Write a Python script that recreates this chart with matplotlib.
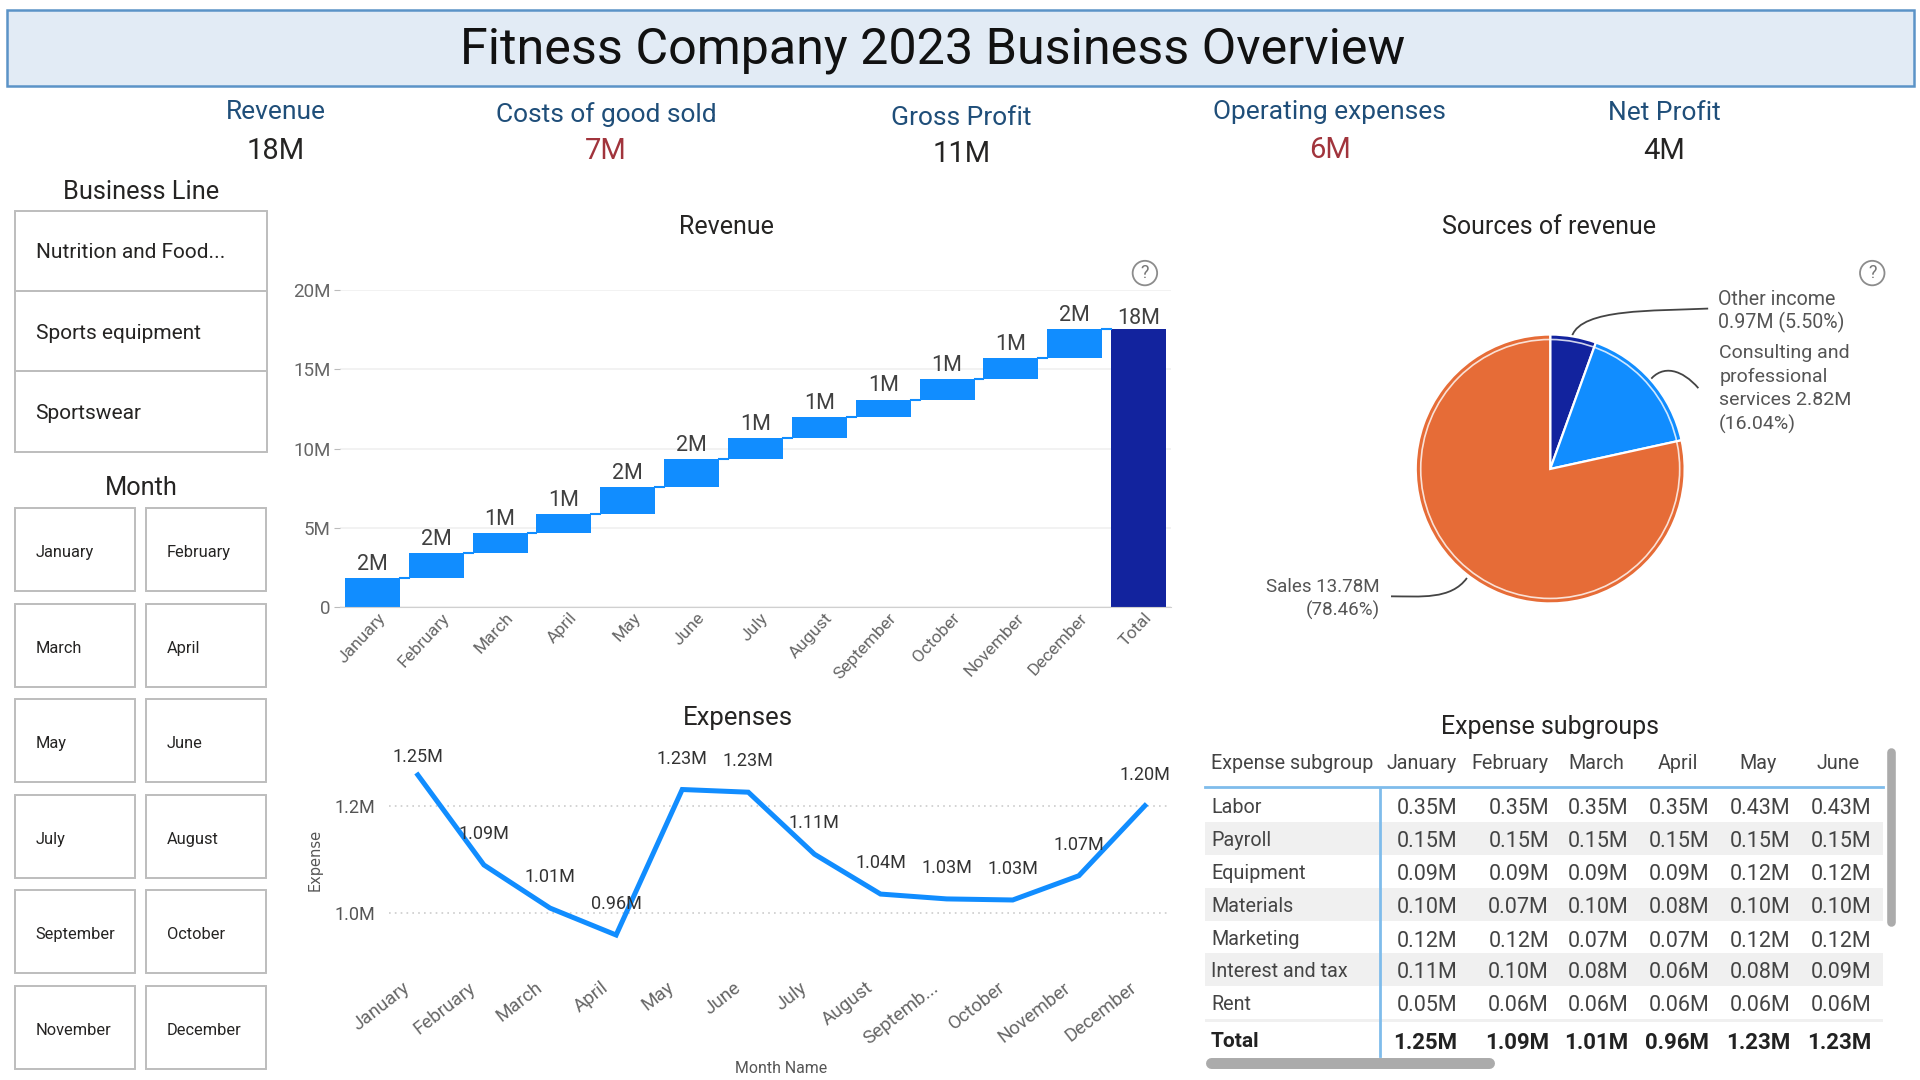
import matplotlib
matplotlib.use('Agg')
import matplotlib.pyplot as plt
from matplotlib.patches import Rectangle, PathPatch, Circle
from matplotlib.path import Path
from matplotlib.transforms import ScaledTranslation

plt.rcParams['font.family'] = ['Roboto', 'DejaVu Sans']

# data
months = ['January', 'February', 'March', 'April', 'May', 'June', 'July', 'August',
          'September', 'October', 'November', 'December']
expense_months = months[:8] + ['Septemb...'] + months[9:]
revenue_steps = [1.85, 1.55, 1.30, 1.17, 1.70, 1.78, 1.30, 1.35, 1.10, 1.30, 1.30, 1.86]
revenue_total = 17.56
revenue_ticks = [0, 5, 10, 15, 20]
revenue_tick_labels = ['0', '5M', '10M', '15M', '20M']

expense_values = [1.257, 1.09, 1.01, 0.96, 1.23, 1.225, 1.11, 1.036, 1.027, 1.025, 1.07, 1.20]
expense_labels = ['1.25M', '1.09M', '1.01M', '0.96M', '1.23M', '1.23M', '1.11M', '1.04M',
                  '1.03M', '1.03M', '1.07M', '1.20M']

source_values = [0.97, 2.82, 13.78]
source_colors = ['#12239E', '#118DFF', '#E66C37']

business_lines = ['Nutrition and Food...', 'Sports equipment', 'Sportswear']

kpi_names = ['Revenue', 'Costs of good sold', 'Gross Profit', 'Operating expenses', 'Net Profit']
kpi_values = ['18M', '7M', '11M', '6M', '4M']

table_cols = ['Expense subgroup', 'January', 'February', 'March', 'April', 'May', 'June']
table_names = ['Labor', 'Payroll', 'Equipment', 'Materials', 'Marketing', 'Interest and tax', 'Rent']
labor = ['0.35M', '0.35M', '0.35M', '0.35M', '0.43M', '0.43M']
payroll = ['0.15M', '0.15M', '0.15M', '0.15M', '0.15M', '0.15M']
equipment = ['0.09M', '0.09M', '0.09M', '0.09M', '0.12M', '0.12M']
materials = ['0.10M', '0.07M', '0.10M', '0.08M', '0.10M', '0.10M']
marketing = ['0.12M', '0.12M', '0.07M', '0.07M', '0.12M', '0.12M']
interest = ['0.11M', '0.10M', '0.08M', '0.06M', '0.08M', '0.09M']
rent = ['0.05M', '0.06M', '0.06M', '0.06M', '0.06M', '0.06M']
table_total = ['1.25M', '1.09M', '1.01M', '0.96M', '1.23M', '1.23M']
table_rows = [labor, payroll, equipment, materials, marketing, interest, rent]

W, H = 1568.0, 882.0
fig = plt.figure(figsize=(19.2, 10.8), dpi=100, facecolor='white')

def axes_px(left, top, right, bottom):
    return fig.add_axes([left / W, 1 - bottom / H, (right - left) / W, (bottom - top) / H])

# overlay for the panels, in picture coordinates
bg = fig.add_axes([0, 0, 1, 1])
bg.set_xlim(0, W)
bg.set_ylim(H, 0)
bg.axis('off')

def box(x0, y0, x1, y1, fc='none', ec='#BDBDBD', lw=1.4):
    bg.add_patch(Rectangle((x0, y0), x1 - x0, y1 - y0, fc=fc, ec=ec, lw=lw))

def label(x, y, s, size=14, color='#252423', ha='center', **kw):
    bg.text(x, y + 1.5, s, fontsize=size, color=color, ha=ha, va='center', **kw)

# banner
box(6, 8, 1563, 70, fc='#E2EBF5', ec='#5B93C7', lw=1.8)
label(762, 39, 'Fitness Company 2023 Business Overview', size=36.2, color='#111111')

# kpi cards
kpi_x = [225, 495, 785, 1086, 1359]
kpi_name_y = [90, 92, 95, 90, 91]
kpi_value_y = [122, 122, 124, 121, 122]
kpi_colors = ['#252423', '#A1343C', '#252423', '#A1343C', '#252423']
for i in range(5):
    label(kpi_x[i], kpi_name_y[i], kpi_names[i], size=19, color='#1F4E79')
    label(kpi_x[i], kpi_value_y[i], kpi_values[i], size=21, color=kpi_colors[i])

# slicers
label(115, 155, 'Business Line', size=18.3)
label(115, 397, 'Month', size=18.3)
biz_y = [172, 238, 303, 369]
for i, name in enumerate(business_lines):
    box(12, biz_y[i], 218, biz_y[i + 1])
    label(29, (biz_y[i] + biz_y[i + 1]) / 2, name, size=15, ha='left')

month_y = [415, 493, 571, 649, 727, 805]
for i, name in enumerate(months):
    r = i // 2
    if i % 2 == 0:
        box(12, month_y[r], 110, month_y[r] + 68)
        label(29, month_y[r] + 35, name, size=11.8, ha='left')
    else:
        box(119, month_y[r], 217, month_y[r] + 68)
        label(136, month_y[r] + 35, name, size=11.8, ha='left')

# section titles
label(593, 184, 'Revenue', size=18)
label(1265, 184, 'Sources of revenue', size=18)
label(603, 585, 'Expenses', size=18.5)
label(1266, 592, 'Expense subgroups', size=18)

# help icons
for cx in [935, 1529]:
    bg.add_patch(Circle((cx, 223), 10, fc='white', ec='#8C8C8C', lw=1.3))
    bg.text(cx, 223, '?', fontsize=13, color='#777777', ha='center', va='center')

# revenue waterfall
ax = axes_px(278, 237, 956, 496)
starts = [sum(revenue_steps[:i]) for i in range(12)]
x = list(range(12))
ax.bar(x, revenue_steps, bottom=starts, width=0.86, color='#118DFF', zorder=2)
ax.bar([12], [revenue_total], width=0.86, color='#12239E', zorder=2)
for i in range(12):
    end = starts[i] + revenue_steps[i]
    ax.plot([i + 0.43, i + 0.57], [end, end], color='#118DFF', lw=1.5, zorder=2)
    ax.text(i, end + 0.2, '%dM' % round(revenue_steps[i]), ha='center', va='bottom',
            fontsize=15.5, color='#404040')
ax.text(12, revenue_total + 0.0, '18M', ha='center', va='bottom', fontsize=15.5, color='#404040')
ax.set_xlim(-0.5, 12.5)
ax.set_ylim(0, 20)
ax.set_yticks(revenue_ticks)
ax.set_yticklabels(revenue_tick_labels, fontsize=13.5, color='#666666')
ax.set_xticks(range(13))
ax.set_xticklabels(months + ['Total'], fontsize=12.5, color='#666666', rotation=47,
                   ha='right', rotation_mode='anchor')
ax.tick_params(axis='x', length=0, pad=2)
ax.tick_params(axis='y', length=4, width=0.8, color='#BBBBBB', pad=3)
# tick_params resets the label transforms, so shift them afterwards
for t in ax.get_xticklabels():
    t.set_transform(t.get_transform() + ScaledTranslation(0.05, 0, fig.dpi_scale_trans))
ax.grid(axis='y', color='black', alpha=0.06, lw=1.2, zorder=3)
for s in ['top', 'right', 'left']:
    ax.spines[s].set_visible(False)
ax.spines['bottom'].set_color('#D0D0D0')
ax.patch.set_alpha(0)

# pie
pie_ax = axes_px(1266 - 112, 383 - 112, 1266 + 112, 383 + 112)
pie_ax.pie(source_values, colors=source_colors, startangle=90, counterclock=False, radius=1.0,
           wedgeprops={'edgecolor': 'white', 'linewidth': 1.6})
pie_ax.add_patch(Circle((0, 0), 0.963, fc='none', ec='white', lw=1.2, alpha=0.8))
pie_ax.set_xlim(-1.02, 1.02)
pie_ax.set_ylim(-1.02, 1.02)

def leader(pts):
    codes = [Path.MOVETO, Path.CURVE4, Path.CURVE4, Path.CURVE4]
    bg.add_patch(PathPatch(Path(pts, codes), fc='none', ec='#444444', lw=1.3))

leader([(1284, 274), (1292, 252), (1350, 254), (1395, 252)])
leader([(1347, 311), (1358, 297), (1374, 302), (1387, 317)])
leader([(1198, 472), (1185, 490), (1160, 487), (1136, 487)])
label(1403, 243, 'Other income', size=14.1, ha='left', color='#555555')
label(1403, 262, '0.97M (5.50%)', size=14.1, ha='left', color='#555555')
label(1404, 287, 'Consulting and', size=14, ha='left', color='#555555')
label(1404, 306, 'professional', size=14, ha='left', color='#555555')
label(1404, 325, 'services 2.82M', size=14, ha='left', color='#555555')
label(1404, 345, '(16.04%)', size=14, ha='left', color='#555555')
label(1127, 478, 'Sales 13.78M', size=13.5, ha='right', color='#555555')
label(1127, 497, '(78.46%)', size=13.5, ha='right', color='#555555')

# expenses line
ax2 = axes_px(318, 610, 955, 790)
xs = list(range(12))
ax2.plot(xs, expense_values, color='#118DFF', lw=3.6, solid_joinstyle='miter', clip_on=False)
for i in range(12):
    dy = 0.033 if i == 0 else 0.057
    ax2.text(i, expense_values[i] + dy, expense_labels[i], ha='center', va='center',
             fontsize=13, color='#333333')
ax2.set_xlim(-0.43, 11.37)
ax2.set_ylim(0.90, 1.309)
ax2.set_yticks([1.0, 1.2])
ax2.set_yticklabels(['1.0M', '1.2M'], fontsize=13, color='#555555')
ax2.set_xticks(xs)
ax2.set_xticklabels(expense_months, fontsize=13.5, color='#666666', rotation=38,
                    ha='right', rotation_mode='anchor')
ax2.tick_params(axis='x', length=0, pad=8)
ax2.tick_params(axis='y', length=0, pad=10)
for t in ax2.get_xticklabels():
    t.set_transform(t.get_transform() + ScaledTranslation(-0.155, 0, fig.dpi_scale_trans))
ax2.grid(axis='y', color='#CCCCCC', lw=1.2, ls=(0, (1, 2.5)))
ax2.set_axisbelow(True)
for s in ax2.spines.values():
    s.set_visible(False)
ax2.patch.set_alpha(0)
label(257, 701, 'Expense', size=10.5, color='#555555', rotation=90, family='DejaVu Sans')
label(638, 871, 'Month Name', size=11.4, color='#555555')

# table
col_right = [1190, 1265, 1330, 1396, 1462, 1528]
col_head = [1161, 1233, 1304, 1370, 1436, 1501]
row_y = [658, 685, 712, 739, 766, 792, 819]
label(989, 622, table_cols[0], size=14.2, ha='left', color='#444444')
for j in range(6):
    label(col_head[j], 622, table_cols[j + 1], size=14.2, color='#444444')
for i in range(7):
    if i % 2 == 1:
        bg.add_patch(Rectangle((984, row_y[i] - 13.5), 554, 27, fc='#F0F0F0', ec='none'))
    label(989, row_y[i], table_names[i], size=14.2, ha='left', color='#444444')
    for j in range(6):
        label(col_right[j], row_y[i] + 1, table_rows[i][j], size=15.5, ha='right', color='#444444')
bg.add_patch(Rectangle((984, 832), 554, 2.5, fc='#F0F0F0', ec='none'))
label(989, 849, 'Total', size=15, ha='left', color='#222222', fontweight='bold')
for j in range(6):
    label(col_right[j], 850, table_total[j], size=16, ha='right', color='#222222', fontweight='bold')
bg.plot([984, 1538], [643, 643], color='#7FBCEB', lw=2)
bg.plot([1127, 1127], [644, 862], color='#7FBCEB', lw=2)
bg.plot([1544.5, 1544.5], [614, 753], color='#ABABAB', lw=6.2, solid_capstyle='round')
bg.plot([989, 1216], [868.5, 868.5], color='#ABABAB', lw=7.9, solid_capstyle='round')

fig.savefig('out.png', dpi=100)
